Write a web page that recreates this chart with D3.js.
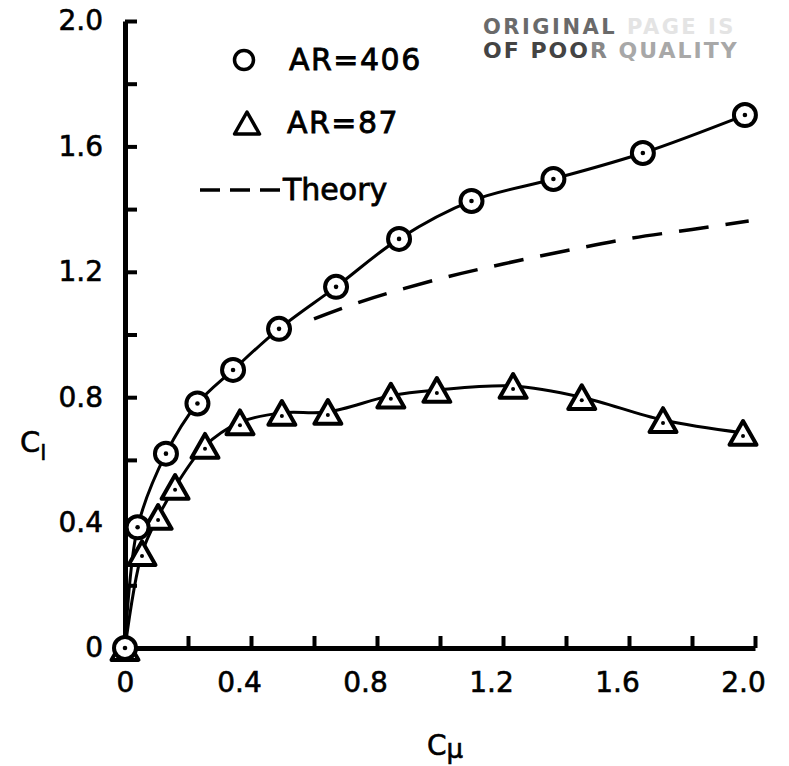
<!DOCTYPE html>
<html>
<head>
<meta charset="utf-8">
<script src="https://cdn.jsdelivr.net/npm/d3@7"></script>
<style>
  body { margin: 0; background: #fff; }
  svg { display: block; }
  text { font-family: "DejaVu Sans", sans-serif; }
</style>
</head>
<body>
<div id="chart"></div>
<script>
// data (Cl vs Cmu)
const cmu406 = [0, 0.04, 0.13, 0.23, 0.343, 0.489, 0.67, 0.87, 1.10, 1.36, 1.644, 1.968];
const cl406  = [0, 0.385, 0.62, 0.78, 0.887, 1.018, 1.152, 1.305, 1.426, 1.496, 1.579, 1.70];
const cmu87  = [0, 0.054, 0.105, 0.159, 0.254, 0.365, 0.498, 0.644, 0.844, 0.99, 1.232, 1.45, 1.708, 1.962];
const cl87   = [0, 0.303, 0.418, 0.514, 0.645, 0.72, 0.75, 0.753, 0.805, 0.823, 0.836, 0.80, 0.727, 0.686];
const cmuTheory = [0.6, 0.75, 1.0, 1.2, 1.4, 1.6, 1.8, 1.98];
const clTheory  = [1.05, 1.105, 1.178, 1.225, 1.267, 1.306, 1.335, 1.362];
const tickVals  = [0, 0.2, 0.4, 0.6, 0.8, 1.0, 1.2, 1.4, 1.6, 1.8, 2.0];
const tickLabels = ["0", "", "0.4", "", "0.8", "", "1.2", "", "1.6", "", "2.0"];
const legendNames = ["AR=406", "AR=87", "Theory"];

const W = 789, H = 766;
const svg = d3.select("#chart").append("svg")
    .attr("width", W).attr("height", H);

const x = d3.scaleLinear().domain([0, 2]).range([125, 755]);
const y = d3.scaleLinear().domain([0, 2]).range([648, 21]);

const fmt = (d, i) => tickLabels[i];

// axes, ticks point inward
const xAxis = svg.append("g")
    .attr("transform", "translate(0," + y(0) + ")")
    .call(d3.axisBottom(x).tickValues(tickVals).tickFormat(fmt).tickSize(-12).tickSizeOuter(0).tickPadding(24));
const yAxis = svg.append("g")
    .attr("transform", "translate(" + x(0) + ",0)")
    .call(d3.axisLeft(y).tickValues(tickVals).tickFormat(fmt).tickSize(-12).tickSizeOuter(0).tickPadding(22));

[xAxis, yAxis].forEach(g => {
    g.select(".domain").style("stroke", "#000").style("stroke-width", "5px");
    g.selectAll(".tick line").style("stroke", "#000").style("stroke-width", "4px");
    g.selectAll(".tick text").attr("font-size", 28).attr("fill", "#000")
        .attr("stroke", "#000").attr("stroke-width", 0.6)
        .attr("font-family", "DejaVu Sans");
});
xAxis.selectAll(".tick text").attr("dx", (d, i) => i > 0 ? -12 : 0);

// axis titles
svg.append("text").attr("x", 445).attr("y", 755).attr("text-anchor", "middle")
    .attr("font-size", 28).attr("stroke", "#000").attr("stroke-width", 0.6)
    .text("C").append("tspan").attr("font-size", 26).attr("dy", 3).text("μ");
svg.append("text").attr("x", 20).attr("y", 452)
    .attr("font-size", 29).attr("stroke", "#000").attr("stroke-width", 0.6)
    .text("C").append("tspan").attr("font-size", 22).attr("dy", 8).text("l");

// faded stamp
svg.append("text").attr("x", 483).attr("y", 34).attr("font-size", 21)
    .attr("font-weight", "bold").attr("letter-spacing", 2.5).attr("fill", "#6a6a6a")
    .text("ORIGINAL").append("tspan").attr("fill", "#e4e4e4").text(" PAGE IS");
const st = svg.append("text").attr("x", 483).attr("y", 58).attr("font-size", 22)
    .attr("font-weight", "bold").attr("letter-spacing", 2).attr("fill", "#444")
    .text("OF POO");
st.append("tspan").attr("fill", "#888").text("R ");
st.append("tspan").attr("fill", "#a8a8a8").text("QUALITY");

const line = d3.line().x(d => x(d[0])).y(d => y(d[1])).curve(d3.curveCatmullRom.alpha(0.5));

const pts406 = cmu406.map((c, i) => [c, cl406[i]]);
const pts87 = cmu87.map((c, i) => [c, cl87[i]]);
const ptsTh = cmuTheory.map((c, i) => [c, clTheory[i]]);

svg.append("path").datum(ptsTh).attr("d", line)
    .attr("fill", "none").attr("stroke", "#000").attr("stroke-width", 3.5)
    .attr("stroke-dasharray", "30,17");
svg.append("path").datum(pts406).attr("d", line)
    .attr("fill", "none").attr("stroke", "#000").attr("stroke-width", 3);
svg.append("path").datum(pts87).attr("d", line)
    .attr("fill", "none").attr("stroke", "#000").attr("stroke-width", 3);

// triangle path, centred on bbox
function tri(s) {
    const h = s * 0.88;
    return "M0," + (-h / 2) + "L" + (s / 2) + "," + (h / 2) + "L" + (-s / 2) + "," + (h / 2) + "Z";
}

const tg = svg.selectAll(".tri").data(pts87).enter().append("g")
    .attr("class", "tri")
    .attr("transform", d => "translate(" + x(d[0]) + "," + y(d[1]) + ")");
tg.append("path").attr("d", tri(27)).attr("fill", "#fff")
    .attr("stroke", "#000").attr("stroke-width", 4).attr("stroke-linejoin", "round");
tg.append("circle").attr("cy", 3).attr("r", 2).attr("fill", "#000");

const cg = svg.selectAll(".circ").data(pts406).enter().append("g")
    .attr("class", "circ")
    .attr("transform", d => "translate(" + x(d[0]) + "," + y(d[1]) + ")");
cg.append("circle").attr("r", 11).attr("fill", "#fff")
    .attr("stroke", "#000").attr("stroke-width", 4);
cg.append("circle").attr("r", 2.3).attr("fill", "#000");

// legend
const lg = svg.append("g");
lg.append("circle").attr("cx", 244).attr("cy", 60).attr("r", 9.5)
    .attr("fill", "none").attr("stroke", "#000").attr("stroke-width", 3.5);
lg.append("text").attr("x", 289).attr("y", 70).attr("font-size", 30)
    .attr("letter-spacing", 1.5).attr("stroke", "#000").attr("stroke-width", 0.8).text(legendNames[0]);
lg.append("path").attr("d", tri(25)).attr("transform", "translate(247,123)")
    .attr("fill", "none").attr("stroke", "#000").attr("stroke-width", 3.5).attr("stroke-linejoin", "round");
lg.append("text").attr("x", 287).attr("y", 133).attr("font-size", 30)
    .attr("letter-spacing", 1.5).attr("stroke", "#000").attr("stroke-width", 0.8).text(legendNames[1]);
lg.append("line").attr("x1", 200).attr("x2", 283).attr("y1", 190).attr("y2", 190)
    .attr("stroke", "#000").attr("stroke-width", 3.5).attr("stroke-dasharray", "20,10");
lg.append("text").attr("x", 283).attr("y", 200).attr("font-size", 30)
    .attr("stroke", "#000").attr("stroke-width", 0.8).text(legendNames[2]);
</script>
</body>
</html>
